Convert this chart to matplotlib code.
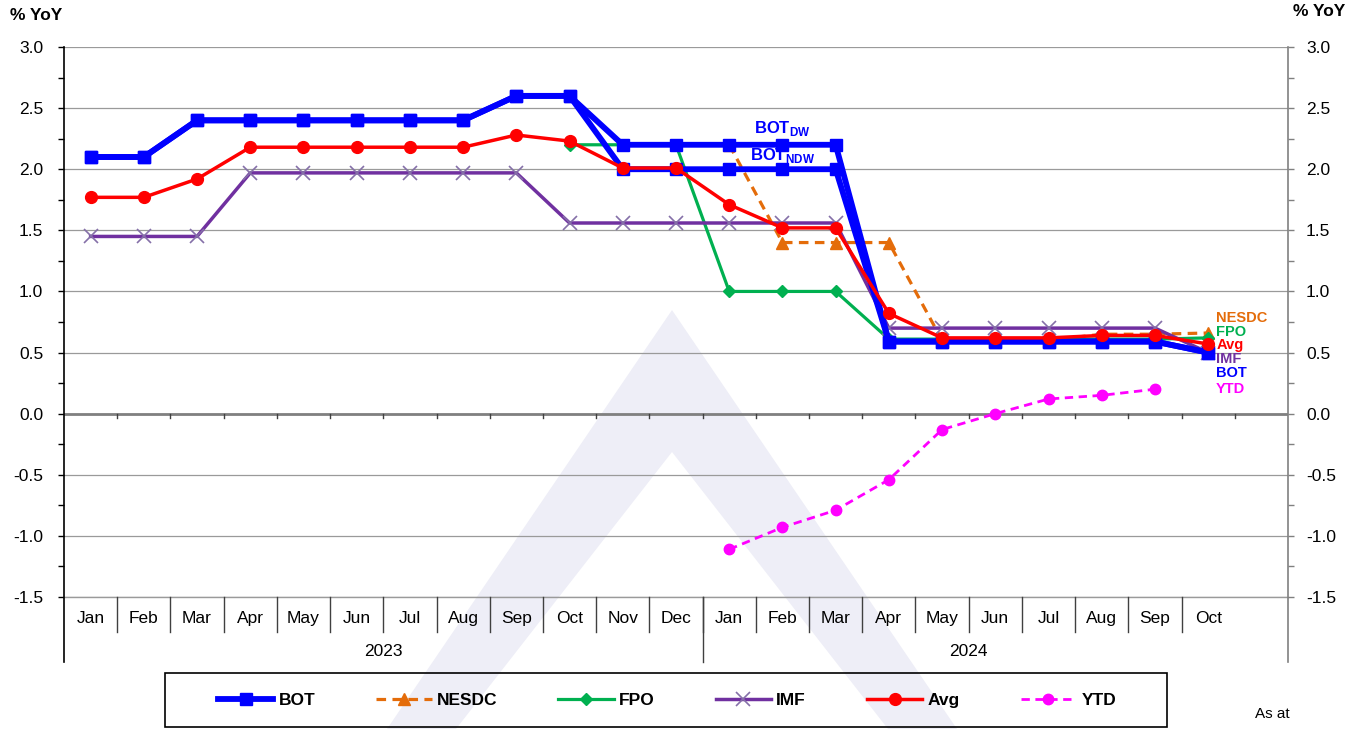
import matplotlib.pyplot as plt
from matplotlib.patches import Polygon, Rectangle
from matplotlib.ticker import MultipleLocator
from matplotlib.transforms import blended_transform_factory

plt.rcParams['font.family'] = ['Liberation Sans', 'DejaVu Sans']
plt.rcParams['mathtext.fontset'] = 'custom'
plt.rcParams['mathtext.rm'] = 'Liberation Sans'
plt.rcParams['mathtext.bf'] = 'Liberation Sans:bold'

# data (Jan 2023 .. Oct 2024)
months = ['Jan', 'Feb', 'Mar', 'Apr', 'May', 'Jun', 'Jul', 'Aug', 'Sep', 'Oct', 'Nov', 'Dec',
          'Jan', 'Feb', 'Mar', 'Apr', 'May', 'Jun', 'Jul', 'Aug', 'Sep', 'Oct']
years = ['2023', '2024']

bot_dw = [2.1, 2.1, 2.4, 2.4, 2.4, 2.4, 2.4, 2.4, 2.6, 2.6, 2.2, 2.2,
          2.2, 2.2, 2.2, 0.59, 0.59, 0.59, 0.59, 0.59, 0.59, 0.5]
bot_ndw = [2.1, 2.1, 2.4, 2.4, 2.4, 2.4, 2.4, 2.4, 2.6, 2.6, 2.0, 2.0,
           2.0, 2.0, 2.0, 0.59, 0.59, 0.59, 0.59, 0.59, 0.59, 0.5]
nesdc_start = 12
nesdc = [2.2, 1.4, 1.4, 1.4, 0.6, 0.6, 0.6, 0.65, 0.65, 0.66]
fpo_start = 9
fpo = [2.2, 2.2, 2.2, 1.0, 1.0, 1.0, 0.61, 0.61, 0.61, 0.61, 0.61, 0.61, 0.62]
imf = [1.45, 1.45, 1.45, 1.97, 1.97, 1.97, 1.97, 1.97, 1.97, 1.56, 1.56, 1.56,
       1.56, 1.56, 1.56, 0.7, 0.7, 0.7, 0.7, 0.7, 0.7, 0.5]
avg = [1.77, 1.77, 1.92, 2.18, 2.18, 2.18, 2.18, 2.18, 2.28, 2.23, 2.01, 2.01,
       1.71, 1.52, 1.52, 0.82, 0.62, 0.62, 0.62, 0.64, 0.64, 0.57]
ytd_start = 12
ytd = [-1.11, -0.93, -0.79, -0.54, -0.13, 0.0, 0.12, 0.15, 0.2]

end_labels = ['NESDC', 'FPO', 'Avg', 'IMF', 'BOT', 'YTD']
end_label_y = [0.78, 0.67, 0.56, 0.45, 0.33, 0.2]

c_bot = '#0000FF'
c_nesdc = '#E46C0A'
c_fpo = '#00B050'
c_imf = '#7030A0'
c_avg = '#FF0000'
c_ytd = '#FF00FF'

W, H = 1360, 729
fig = plt.figure(figsize=(W / 100, H / 100), dpi=100)

# watermark chevron behind everything
pts = [(672, 310), (387, 729), (456, 729), (672, 452), (888, 729), (957, 729)]
wm = Polygon([(px / W, 1 - py / H) for px, py in pts], closed=True,
             transform=fig.transFigure, facecolor='#EEEEF7', edgecolor='none', zorder=-10)
fig.patches.append(wm)

left, right, top, bottom = 64, 1288, 47, 597
ax = fig.add_axes([left / W, 1 - bottom / H, (right - left) / W, (bottom - top) / H])
ax.set_facecolor('none')
ax.set_xlim(-0.5, 22.5)
ax.set_ylim(-1.5, 3.0)

x = list(range(len(months)))
ax.plot(x, bot_dw, color=c_bot, lw=4.2, marker='s', ms=8.5, label='BOT', zorder=5)
ax.plot(x, bot_ndw, color=c_bot, lw=4.2, marker='s', ms=8.5, zorder=5)
ax.plot(x[nesdc_start:], nesdc, color=c_nesdc, lw=2.3, ls=(0, (3, 2)), marker='^', ms=9,
        label='NESDC', zorder=3)
ax.plot(x[fpo_start:], fpo, color=c_fpo, lw=2.3, marker='D', ms=6.5, label='FPO', zorder=4)
ax.plot(x, imf, color=c_imf, lw=2.5, marker='x', ms=10, mew=1.2, mec='#8570A8',
        label='IMF', zorder=4)
ax.plot(x, avg, color=c_avg, lw=2.5, marker='o', ms=8.5, label='Avg', zorder=6)
ax.plot(x[ytd_start:ytd_start + len(ytd)], ytd, color=c_ytd, lw=2.0, ls=(0, (3, 2)),
        marker='o', ms=7.5, label='YTD', zorder=7)

# y axis, grid
ax.yaxis.set_major_locator(MultipleLocator(0.5))
ax.yaxis.set_minor_locator(MultipleLocator(0.25))
ax.yaxis.set_major_formatter(lambda v, p: f'{v:.1f}')
ax.grid(axis='y', color='#9A9A9A', lw=0.9)
ax.set_axisbelow(True)
ax.tick_params(axis='y', which='both', direction='out', length=4, width=1, labelsize=12.5, pad=11)
ax.axhline(0, color='#808080', lw=2, zorder=1)
ax.axhline(-1.5, color='#9A9A9A', lw=1, zorder=1, clip_on=False)
for s in ['top', 'bottom', 'left', 'right']:
    ax.spines[s].set_visible(False)

ax2 = ax.twinx()
ax2.set_ylim(-1.5, 3.0)
ax2.yaxis.set_major_locator(MultipleLocator(0.5))
ax2.yaxis.set_minor_locator(MultipleLocator(0.25))
ax2.yaxis.set_major_formatter(lambda v, p: f'{v:.1f}')
ax2.tick_params(axis='y', which='both', direction='out', length=4, width=1, color='#808080',
                labelsize=12.5, pad=9)
for s in ['top', 'bottom', 'left', 'right']:
    ax2.spines[s].set_visible(False)

# category axis
ax.set_xticks(x, months)
ax.tick_params(axis='x', length=0, labelsize=12.5, pad=10)
tr = blended_transform_factory(ax.transData, ax.transAxes)
for i in range(len(months) - 1):
    ax.plot([i + 0.5, i + 0.5], [-0.064, 0], color='#404040', lw=1, transform=tr, clip_on=False)
for i in range(len(months)):
    ax.plot([i + 0.5, i + 0.5], [0, -0.035], color='#404040', lw=1, transform=ax.transData,
            clip_on=False, zorder=1)
ax.plot([11.5, 11.5], [-0.118, 0], color='#404040', lw=1, transform=tr, clip_on=False)
ax.plot([-0.5, -0.5], [-0.118, 1], color='black', lw=1.2, transform=tr, clip_on=False)
ax.plot([22.5, 22.5], [-0.118, 1], color='#808080', lw=1.2, transform=tr, clip_on=False)
ax.text(5.5, -0.1, years[0], transform=tr, ha='center', va='center', fontsize=12.5)
ax.text(16.5, -0.1, years[1], transform=tr, ha='center', va='center', fontsize=12.5)

# labels
for lab, yy, c in zip(end_labels, end_label_y, [c_nesdc, c_fpo, c_avg, c_imf, c_bot, c_ytd]):
    ax.text(21.15, yy, lab, color=c, fontsize=10.5, fontweight='bold', va='center', ha='left')
ax.text(13.0, 2.33, r'$\mathbf{BOT}_{\mathbf{DW}}$', color=c_bot, fontsize=12, ha='center', va='center')
ax.text(13.0, 2.11, r'$\mathbf{BOT}_{\mathbf{NDW}}$', color=c_bot, fontsize=12, ha='center', va='center')

fig.text(10 / W, 1 - 15 / H, '% YoY', fontsize=12.5, fontweight='bold', va='center', ha='left')
fig.text(1345 / W, 1 - 12 / H, '% YoY', fontsize=12.5, fontweight='bold', va='center', ha='right')
fig.text(1255 / W, 1 - 714 / H, 'As at', fontsize=11, va='center', ha='left')

# legend with its own frame box
box = Rectangle((165 / W, 2 / H), 1002 / W, 54 / H, transform=fig.transFigure,
                facecolor='none', edgecolor='black', lw=1.2)
fig.patches.append(box)
handles, labels = ax.get_legend_handles_labels()
fig.legend(handles, labels, loc='center', ncol=6, bbox_to_anchor=(667 / W, 1 - 700 / H),
           prop={'weight': 'bold', 'size': 12.5}, handlelength=3.2, handletextpad=0.3,
           columnspacing=3.5, numpoints=1, frameon=False)

plt.savefig('out.png', dpi=100)
